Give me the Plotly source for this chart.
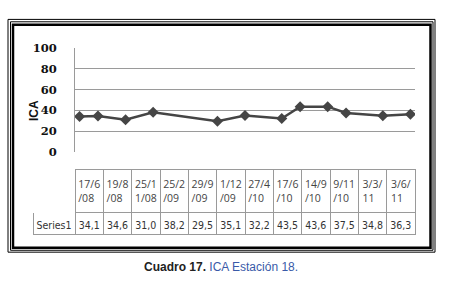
import plotly.graph_objects as go

# ---- data ----
dates = ["2008-06-17", "2008-08-19", "2008-11-25", "2009-02-25", "2009-09-29", "2009-12-01",
         "2010-04-27", "2010-06-17", "2010-09-14", "2010-11-09", "2011-03-03", "2011-06-03"]
values = [34.1, 34.6, 31.0, 38.2, 29.5, 35.1, 32.2, 43.5, 43.6, 37.5, 34.8, 36.3]
date_labels = ["17/6<br>/08", "19/8<br>/08", "25/1<br>1/08", "25/2<br>/09", "29/9<br>/09", "1/12<br>/09",
               "27/4<br>/10", "17/6<br>/10", "14/9<br>/10", "9/11<br>/10", "3/3/<br>11", "3/6/<br>11"]
value_labels = ["34,1", "34,6", "31,0", "38,2", "29,5", "35,1", "32,2", "43,5", "43,6", "37,5", "34,8", "36,3"]
series_name = "Series1"
y_title = "ICA"
y_ticks = [0, 20, 40, 60, 80, 100]

# Excel-style date axis with month base unit: each date sits in its month slot
y0, m0 = int(dates[0][:4]), int(dates[0][5:7])
month_index = [(int(d[:4]) - y0) * 12 + int(d[5:7]) - m0 for d in dates]

W, H = 450, 304
def px(x): return x / W
def py(y): return 1 - y / H

fig = go.Figure()

fig.add_trace(go.Scatter(
    x=month_index, y=values, mode="lines+markers",
    line=dict(color="#454545", width=2.5),
    marker=dict(symbol="diamond", size=8.5, color="#454545"),
    showlegend=False, hoverinfo="skip",
))

grid_color = "#9a9a9a"
fig.add_trace(go.Table(
    domain=dict(x=[px(33), px(415.5)], y=[py(240), py(170)]),
    columnwidth=[42] + [28.3] * len(dates),
    header=dict(
        values=[""] + date_labels,
        height=40,
        align="center",
        fill=dict(color="white"),
        line=dict(color=["white"] + [grid_color] * len(dates), width=1),
        font=dict(family="Open Sans", size=10.5, color="#444"),
    ),
    cells=dict(
        values=[[series_name]] + [[v] for v in value_labels],
        height=22,
        align="center",
        fill=dict(color="white"),
        line=dict(color=grid_color, width=1),
        font=dict(family="DejaVu Sans Condensed", size=10.5, color="#333"),
    ),
))

# frame
frame = [
    (8, 13, 435, 257, 1),
    (10.5, 15.5, 433, 255, 1),
    (13, 18.5, 430.5, 252.5, 2.5),
]
for x0, yy0, x1, y1, w in frame:
    fig.add_shape(type="rect", xref="paper", yref="paper",
                  x0=px(x0), y0=py(y1), x1=px(x1), y1=py(yy0),
                  line=dict(color="black", width=w), fillcolor="rgba(0,0,0,0)")

fig.add_annotation(
    xref="paper", yref="paper", x=px(25), y=py(96), showarrow=False, textangle=-90,
    text=f"<b>{y_title}</b>",
    font=dict(family="Liberation Sans", size=12, color="#111"),
)

fig.add_annotation(
    xref="paper", yref="paper", x=px(221), y=py(282), showarrow=False,
    text="<b>Cuadro 17.</b> <span style='color:#3a5aa8'>ICA Estación 18.</span>",
    font=dict(family="Liberation Sans", size=12, color="#222"),
)

fig.update_layout(
    width=W, height=H,
    margin=dict(l=0, r=0, t=0, b=0),
    paper_bgcolor="white", plot_bgcolor="white",
    xaxis=dict(domain=[px(75), px(415)], range=[-0.5, month_index[-1] + 0.5], visible=False),
    yaxis=dict(domain=[py(152), py(43)], range=[0, 100],
               tickvals=y_ticks, showgrid=True, gridcolor=grid_color, gridwidth=1,
               zeroline=False, showline=True, linecolor=grid_color, linewidth=1,
               ticks="", ticklabelstandoff=15,
               tickfont=dict(family="DejaVu Serif", size=11.5, color="#111", weight="bold")),
)

fig.write_html("out.html")
